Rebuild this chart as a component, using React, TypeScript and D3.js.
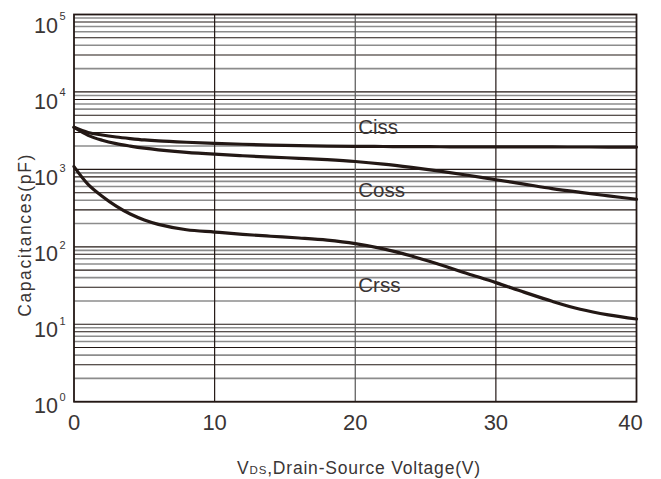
import React from "react";
import * as d3 from "d3";

// Drain-source voltage (V)
const vds = [0, 1, 2, 3, 4, 5, 6, 8, 10, 12, 14, 16, 18, 20, 22, 24, 26, 28, 30, 32, 34, 36, 38, 40];
// Capacitances (pF)
const ciss = [3500, 3000, 2780, 2620, 2500, 2400, 2330, 2240, 2170, 2110, 2060, 2025, 2000, 1985, 1975, 1965, 1960, 1955, 1952, 1950, 1948, 1945, 1942, 1940];
const coss = [3500, 2750, 2380, 2150, 2000, 1880, 1790, 1660, 1570, 1500, 1440, 1390, 1335, 1265, 1170, 1060, 950, 840, 735, 645, 565, 505, 455, 411];
const crss = [1085, 640, 450, 335, 265, 222, 195, 166, 155, 145, 137, 130, 122, 110, 94, 76, 59, 45, 34.5, 26, 19.8, 15.6, 13.2, 11.7];

const xTicks = [0, 10, 20, 30, 40];
const yExponents = [0, 1, 2, 3, 4, 5];

const seriesLabels = [
  { name: "Ciss", at: 20, values: ciss, dy: -12 },
  { name: "Coss", at: 20, values: coss, dy: 36 },
  { name: "Crss", at: 20, values: crss, dy: 48 },
];

const W = 661;
const H = 479;
const plot = { left: 74, right: 636.5, top: 14.5, bottom: 401.7 };

export default function App() {
  const x = d3.scaleLinear().domain([0, 40]).range([plot.left, plot.right]);
  const y = d3.scaleLog().domain([1, 1e5]).range([plot.bottom, plot.top]);

  const line = d3
    .line<[number, number]>()
    .x((d) => x(d[0]))
    .y((d) => y(d[1]))
    .curve(d3.curveCatmullRom.alpha(0.5));

  const minor: { v: number; m: number }[] = [];
  for (let k = 0; k < 5; k++) {
    for (let m = 2; m <= 9; m++) minor.push({ v: m * Math.pow(10, k), m });
  }
  const darkMinor = new Set([3, 5, 8]);

  const font = "'Liberation Sans', Arial, sans-serif";
  const ink = "#231815";
  const textInk = "#3a3535";

  return (
    <svg
      width={W}
      height={H}
      style={{ position: "absolute", left: 0, top: 0, background: "#fff" }}
      fontFamily={font}
    >
      {/* minor horizontal grid */}
      {minor.map((g, i) => (
        <line
          key={"mn" + i}
          x1={plot.left}
          x2={plot.right}
          y1={y(g.v)}
          y2={y(g.v)}
          stroke={darkMinor.has(g.m) ? ink : "#8c8c8c"}
          strokeWidth={darkMinor.has(g.m) ? 1.1 : 1.6}
        />
      ))}
      {/* decade lines */}
      {yExponents.map((k) => (
        <line
          key={"dc" + k}
          x1={plot.left}
          x2={plot.right}
          y1={y(Math.pow(10, k))}
          y2={y(Math.pow(10, k))}
          stroke={ink}
          strokeWidth={1.2}
        />
      ))}
      {/* vertical grid */}
      {xTicks.slice(1, -1).map((t) => (
        <line
          key={"vx" + t}
          x1={x(t)}
          x2={x(t)}
          y1={plot.top}
          y2={plot.bottom}
          stroke={t === 20 ? "#555" : ink}
          strokeWidth={1.2}
        />
      ))}
      {/* frame */}
      <rect
        x={plot.left}
        y={plot.top}
        width={plot.right - plot.left}
        height={plot.bottom - plot.top}
        fill="none"
        stroke={ink}
        strokeWidth={1.8}
      />

      {/* curves */}
      {[ciss, coss, crss].map((vals, i) => (
        <path
          key={"c" + i}
          d={line(vds.map((v, j) => [v, vals[j]] as [number, number])) || ""}
          fill="none"
          stroke={ink}
          strokeWidth={3.2}
          strokeLinecap="round"
          strokeLinejoin="round"
        />
      ))}

      {/* curve names */}
      {seriesLabels.map((s) => {
        const j = vds.indexOf(s.at);
        return (
          <text
            key={s.name}
            x={x(s.at) + 3}
            y={y(s.values[j]) + s.dy}
            fontSize={20.5}
            fill={textInk}
          >
            {s.name}
          </text>
        );
      })}

      {/* x tick labels */}
      {xTicks.map((t) => (
        <text
          key={"xt" + t}
          x={x(t) - (t === 40 ? 6 : 0)}
          y={plot.bottom + 28.5}
          textAnchor="middle"
          fontSize={22}
          fill={textInk}
        >
          {t}
        </text>
      ))}

      {/* y tick labels */}
      {yExponents.map((k) => {
        const base = y(Math.pow(10, k)) + 11.6 + (k * 6.6) / 5;
        return (
          <g key={"yt" + k}>
            <text x={58} y={base} textAnchor="end" fontSize={21.5} fill={textInk}>
              10
            </text>
            <text x={59.5} y={base - 12.5} fontSize={11} fill={textInk}>
              {k}
            </text>
          </g>
        );
      })}

      {/* axis titles */}
      <text
        x={359}
        y={474}
        textAnchor="middle"
        fontSize={17.5}
        letterSpacing={0.8}
        fill={textInk}
      >
        <tspan>V</tspan>
        <tspan fontSize={11.5}>DS</tspan>
        <tspan>,Drain-Source Voltage(V)</tspan>
      </text>
      <text
        transform={`translate(31, 235) rotate(-90)`}
        textAnchor="middle"
        fontSize={17.5}
        letterSpacing={1.6}
        fill={textInk}
      >
        Capacitances(pF)
      </text>
    </svg>
  );
}
